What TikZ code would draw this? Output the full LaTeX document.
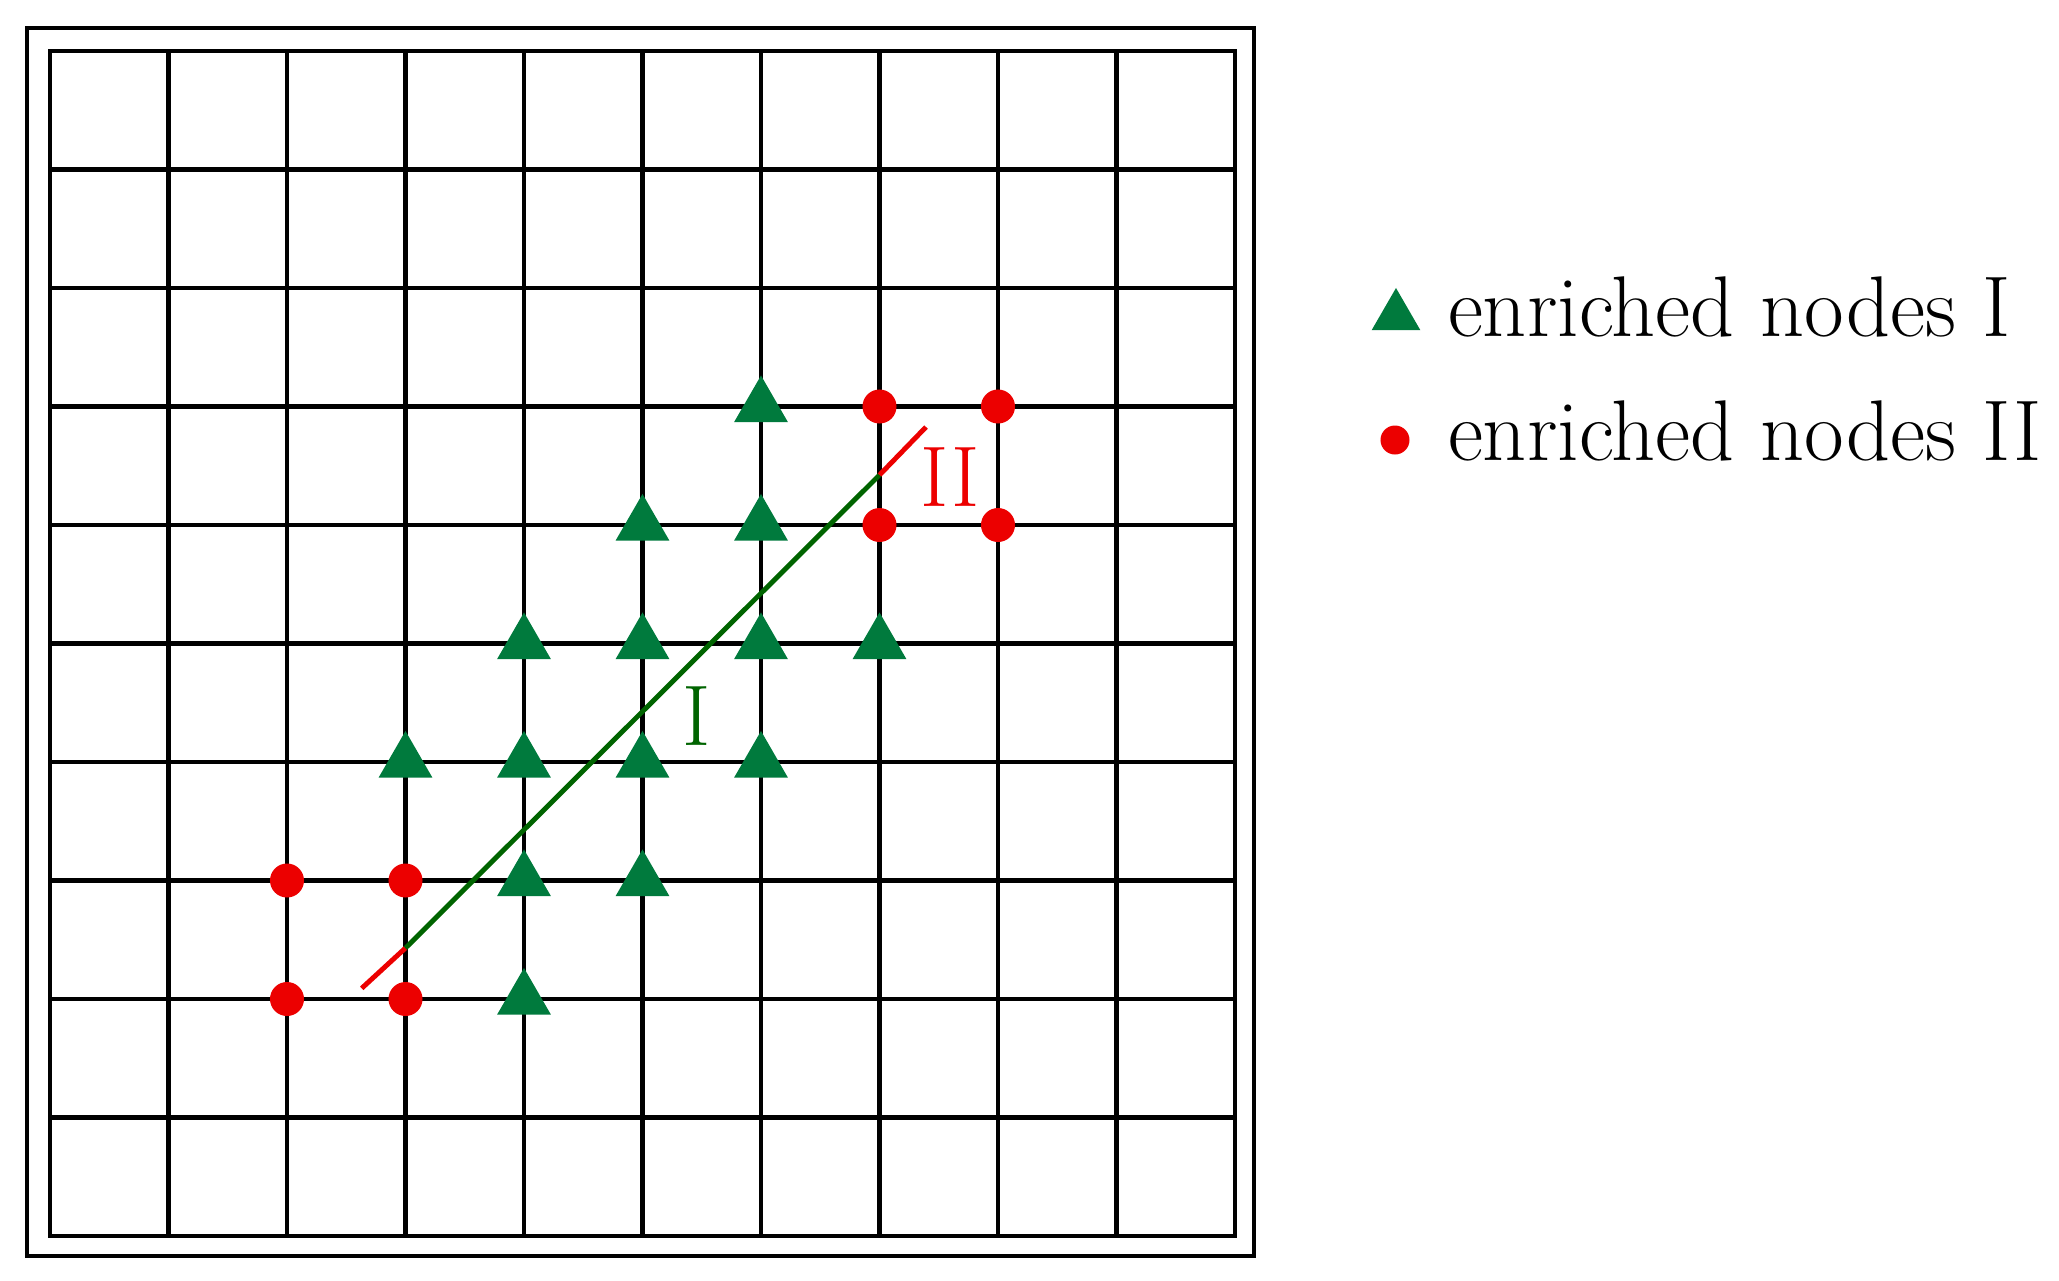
\documentclass[tikz,border=0pt]{standalone}
\usetikzlibrary{shapes.geometric}
\definecolor{trigreen}{RGB}{0,122,61}
\definecolor{linegreen}{RGB}{0,100,0}
\definecolor{dotred}{RGB}{236,0,0}
\tikzset{
  gridline/.style={line width=1.4pt, black},
  frameline/.style={line width=0.9pt, black},
  tri/.style={regular polygon, regular polygon sides=3, fill=trigreen, draw=none, inner sep=0pt, outer sep=0pt, minimum size=0.62cm},
  legtri/.style={tri, minimum size=0.56cm},
  reddot/.style={circle, fill=dotred, draw=none, inner sep=0pt, outer sep=0pt, minimum size=0.34cm},
  legdot/.style={reddot, minimum size=0.29cm},
  crack/.style={line width=1.4pt},
  lbl/.style={font=\fontsize{24.5}{29}\selectfont, inner sep=0pt, outer sep=0pt},
}
\begin{document}
\begin{tikzpicture}[x=0.01cm,y=-0.01cm]
\useasboundingbox (0,0) rectangle (2059,1281);
% outer frame
\draw[frameline] (27,28) rectangle (1254,1256);
% grid
\draw[gridline] (50,51) rectangle (1235,1236);
\foreach \i in {1,...,9} {
  \draw[gridline] ({50+118.5*\i},51) -- ({50+118.5*\i},1236);
  \draw[gridline] (50,{51+118.5*\i}) -- (1235,{51+118.5*\i});
}
% grid point coordinates
\foreach \i in {0,...,10} {
  \foreach \j in {0,...,10} {
    \coordinate (g-\i-\j) at ({50+118.5*\i},{51+118.5*\j});
  }
}
% crack line
\coordinate (ra) at (361.7,988.3);
\coordinate (ga) at (405.5,948);
\coordinate (gb) at (879.5,475);
\coordinate (rb) at (926,427);
\draw[crack, dotred] (ra) -- (ga);
\draw[crack, linegreen] (ga) -- (gb);
\draw[crack, dotred] (gb) -- (rb);
% enriched nodes I
\foreach \i/\j in {6/3, 5/4, 6/4, 4/5, 5/5, 6/5, 7/5, 3/6, 4/6, 5/6, 6/6, 4/7, 5/7, 4/8} {
  \node[tri] (t-\i-\j) at (g-\i-\j) {};
}
% enriched nodes II
\foreach \i/\j in {7/3, 8/3, 7/4, 8/4, 2/7, 3/7, 2/8, 3/8} {
  \node[reddot] (d-\i-\j) at (g-\i-\j) {};
}
% labels
\node[lbl, text=linegreen] (labI) at (697,716) {I};
\node[lbl, text=dotred] (labII) at (950,477) {II};
% legend
\node[legtri] (legT) at (1396,316) {};
\node[legdot] (legD) at (1395,440) {};
\node[lbl, anchor=base west] (legTtext) at (1448,336) {enriched nodes I};
\node[lbl, anchor=base west] (legDtext) at (1448,460) {enriched nodes II};
\end{tikzpicture}
\end{document}
